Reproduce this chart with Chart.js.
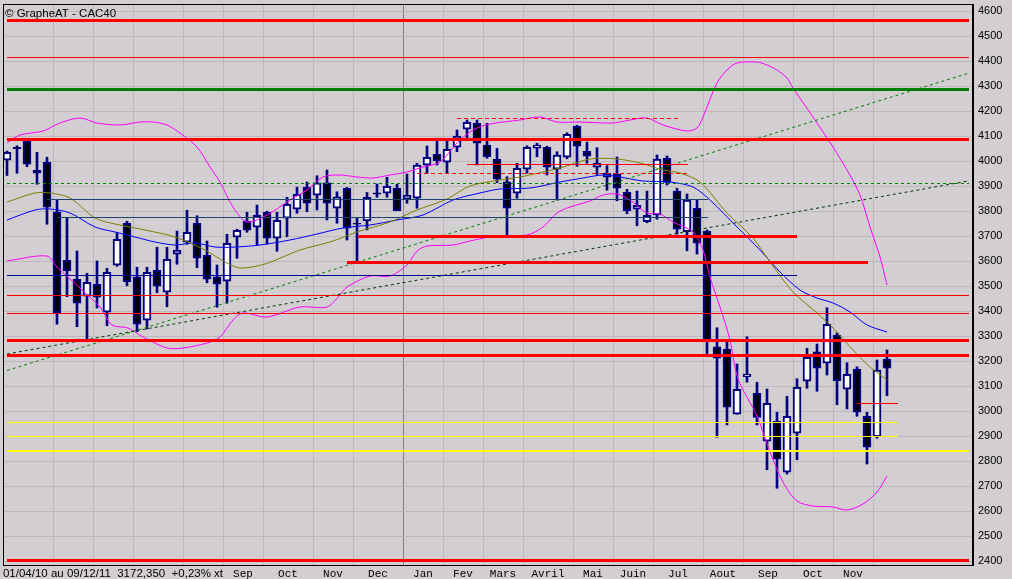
<!DOCTYPE html>
<html>
<head>
<meta charset="utf-8">
<title>GrapheAT - CAC40</title>
<script src="https://cdn.jsdelivr.net/npm/chart.js@4.4.1/dist/chart.umd.min.js"></script>
<style>
  html, body { margin: 0; padding: 0; background: #d2ced2; }
  #wrap { width: 1012px; height: 579px; }
</style>
</head>
<body>
<div id="wrap"><canvas id="cac40" width="1012" height="579"></canvas></div>
<script>
// weekly candles, 01/04/10 -> 09/12/11 (index = week number)
const opens  = [4004, 4056, 4080, 3964, 3996, 3798, 3604, 3528, 3460, 3508,
                3396, 3584, 3752, 3538, 3364, 3564, 3476, 3628, 3676, 3752,
                3624, 3538, 3520, 3696, 3760, 3736, 3796, 3692, 3772, 3808,
                3896, 3864, 3914, 3812, 3892, 3752, 3761, 3874, 3872, 3892,
                3849, 3852, 3984, 4028, 3996, 4056, 4128, 4152, 4065, 4008,
                3918, 3872, 3968, 4052, 4056, 3968, 4016, 4140, 4040, 3976,
                3936, 3948, 3876, 3808, 3758, 3785, 4012, 3881, 3718, 3812,
                3721, 3258, 3249, 2988, 3138, 3072, 2880, 2960, 2756, 2912,
                3120, 3238, 3192, 3305, 3088, 3169, 2980, 2898, 3209];
const highs  = [4041, 4062, 4085, 4036, 4016, 3845, 3774, 3641, 3552, 3601,
                3572, 3716, 3760, 3576, 3576, 3656, 3656, 3721, 3804, 3782,
                3681, 3585, 3708, 3728, 3796, 3825, 3800, 3796, 3856, 3896,
                3917, 3942, 3965, 3878, 3895, 3772, 3875, 3909, 3936, 3908,
                3949, 3992, 4061, 4081, 4085, 4125, 4165, 4165, 4152, 4052,
                3938, 3992, 4062, 4072, 4060, 4038, 4114, 4144, 4077, 4054,
                3982, 4017, 3888, 3881, 3881, 4025, 4021, 3892, 3869, 3845,
                3725, 3334, 3281, 3189, 3298, 3116, 3089, 2996, 3060, 3130,
                3252, 3269, 3414, 3314, 3194, 3178, 2996, 3205, 3245];
const lows   = [3943, 3952, 3978, 3908, 3748, 3348, 3458, 3338, 3288, 3413,
                3342, 3580, 3502, 3318, 3329, 3474, 3418, 3588, 3668, 3574,
                3514, 3416, 3432, 3612, 3716, 3664, 3669, 3640, 3698, 3792,
                3798, 3805, 3765, 3752, 3685, 3594, 3725, 3856, 3856, 3802,
                3832, 3812, 3952, 3985, 3952, 4038, 4085, 3985, 4012, 3914,
                3701, 3852, 3952, 4018, 3945, 3845, 4010, 3980, 3992, 3946,
                3884, 3842, 3790, 3742, 3754, 3768, 3905, 3708, 3642, 3629,
                3225, 2896, 2945, 2988, 3116, 2945, 2766, 2692, 2749, 2806,
                3092, 3080, 3145, 3026, 3009, 2980, 2789, 2892, 3062];
const closes = [4036, 4050, 3988, 3952, 3816, 3394, 3561, 3432, 3516, 3456,
                3556, 3688, 3518, 3348, 3556, 3500, 3608, 3645, 3716, 3612,
                3528, 3508, 3672, 3724, 3724, 3784, 3692, 3764, 3828, 3868,
                3832, 3914, 3832, 3858, 3732, 3748, 3856, 3868, 3900, 3802,
                3864, 3985, 4016, 4002, 4048, 4101, 4156, 4072, 4018, 3928,
                3812, 3972, 4056, 4065, 3976, 4025, 4108, 4060, 4020, 3992,
                3952, 3892, 3802, 3824, 3784, 4009, 3915, 3728, 3845, 3672,
                3279, 3212, 3016, 3088, 3149, 2975, 3032, 2808, 2980, 3096,
                3216, 3172, 3348, 3122, 3148, 2996, 2856, 3165, 3172];

// moving averages and bands, [week, value]
const olivePts = [[0, 3837], [2.8, 3873], [4.3, 3873], [6.3, 3853], [8.8, 3773], [10.8, 3749],
  [13.8, 3725], [16.8, 3697], [19.8, 3645], [21.8, 3597], [23.3, 3573], [25.8, 3589],
  [29.3, 3645], [32.3, 3677], [35, 3717], [38.3, 3757], [41, 3805], [44, 3849],
  [46.3, 3901], [49.3, 3925], [51.3, 3937], [55.3, 3973], [58.3, 4009], [61, 4009],
  [63.3, 3993], [65.6, 3965], [67.3, 3953], [69.3, 3917], [72, 3793], [74.6, 3693],
  [76.3, 3597], [78.6, 3477], [81, 3393], [82.6, 3333], [84.6, 3245], [86.3, 3177], [88, 3125]];
const bluePts = [[0, 3765], [2.8, 3805], [4.3, 3809], [6.3, 3793], [8.8, 3737], [10.8, 3717],
  [12.8, 3697], [14.8, 3677], [16.8, 3665], [18.8, 3673], [20.8, 3657], [22.8, 3657],
  [25.3, 3665], [28.3, 3685], [31, 3709], [33.6, 3733], [36.3, 3745], [39, 3765],
  [41.6, 3785], [44.6, 3845], [47.3, 3873], [49.3, 3889], [52.3, 3893], [55.3, 3917],
  [57.6, 3933], [59.6, 3945], [61.3, 3937], [63.6, 3921], [66.3, 3917], [68.6, 3897],
  [70.3, 3845], [73, 3737], [75.3, 3645], [77.3, 3557], [79.3, 3485], [81, 3453],
  [82.6, 3433], [84.3, 3397], [86, 3345], [88, 3317]];
const upperPts = [[0, 4073], [1.3, 4105], [3.6, 4121], [5.3, 4153], [7.3, 4173], [9, 4153],
  [11.3, 4145], [13.3, 4157], [14.6, 4157], [16, 4145], [17.3, 4113], [19, 4057],
  [20.3, 3977], [21.3, 3917], [22.6, 3817], [24, 3757], [26, 3785], [28.3, 3845],
  [30, 3885], [31.6, 3937], [33.3, 3945], [35, 3937], [36.6, 3933], [38.3, 3945],
  [40, 3957], [41.6, 3977], [43.3, 3997], [45, 4073], [46.6, 4125], [48.3, 4149],
  [51.3, 4165], [53.3, 4177], [55, 4157], [57.3, 4157], [60.6, 4153], [62.3, 4165],
  [64, 4173], [65.6, 4145], [68, 4121], [69, 4133], [69.6, 4177], [71, 4313],
  [72, 4365], [73, 4393], [75, 4397], [76, 4385], [77, 4365], [78, 4333], [78.6, 4293],
  [80.6, 4177], [82.6, 4057], [84, 3965], [85.3, 3865], [86.3, 3737], [87.3, 3617], [88, 3505]];
const lowerPts = [[0, 3601], [4, 3621], [5, 3577], [7.3, 3493], [9.3, 3417], [10.5, 3345],
  [12.1, 3333], [13.6, 3297], [16, 3253], [17.6, 3253], [20, 3273], [21.3, 3297],
  [22.6, 3365], [23.6, 3393], [26, 3377], [29.3, 3417], [32, 3417], [33.3, 3465],
  [34, 3497], [36.3, 3541], [38.3, 3541], [40, 3585], [41, 3641], [42, 3661],
  [44.6, 3665], [46.3, 3681], [48.3, 3697], [52, 3705], [53.6, 3737], [55, 3793],
  [56.3, 3817], [58.3, 3841], [59.6, 3865], [61, 3869], [62.3, 3845], [64, 3793],
  [65.3, 3789], [66.6, 3757], [68.6, 3717], [69.6, 3645], [70.3, 3537], [71.3, 3417],
  [72.3, 3285], [73.1, 3129], [75, 2981], [76.3, 2837], [77.6, 2717], [79, 2641],
  [80.6, 2621], [82.6, 2617], [84, 2605], [85.6, 2629], [87, 2677], [88, 2741]];

// horizontal levels: value, first week, last week
const levelValues = [4563, 4415, 4287, 4087, 4171, 3911, 3987, 3951, 3847, 3775, 3543,
                     3699, 3595, 3463, 3391, 3283, 3223, 2955, 2899, 2841, 3031, 2403];
const levelFrom   = [0, 0, 0, 0, 45, 0, 46, 41, 4, 5, 0, 35.1, 34, 0, 0, 0, 0, 0, 0, 0, 85, 0];
const levelTo     = [96.2, 96.2, 96.2, 96.2, 67.1, 96.2, 68.1, 68.1, 70.1, 70.1, 79,
                     79, 86.1, 96.2, 96.2, 96.2, 96.2, 89.1, 89.1, 96.2, 89.1, 96.2];
const levelKinds  = ['redThick', 'red', 'greenThick', 'redThick', 'redDash', 'greenDash', 'red',
                     'redDash', 'slate', 'slate', 'navy', 'redThick', 'redThick', 'red', 'red',
                     'redThick', 'redThick', 'yellow', 'yellow', 'yellowThick', 'red', 'redThick'];

// trend lines, [week, value]
const trendGreen = [[0, 3163], [96.3, 4354]];
const trendDark  = [[0, 3229], [96.1, 3921]];

// axes
const yTicks = [2400, 2500, 2600, 2700, 2800, 2900, 3000, 3100, 3200, 3300, 3400, 3500,
                3600, 3700, 3800, 3900, 4000, 4100, 4200, 4300, 4400, 4500, 4600];
const monthStarts = [4.6, 8.6, 12.6, 17.6, 21.6, 25.6, 30.6, 34.6, 39.6, 43.6,
                     47.6, 51.6, 56.6, 60.6, 64.6, 69.6, 73.6, 78.6, 82.6, 86.6];
const monthLabels = ['', '', '', '', 'Sep', 'Oct', 'Nov', 'Dec', 'Jan', 'Fev', 'Mars',
                     'Avril', 'Mai', 'Juin', 'Jul', 'Aout', 'Sep', 'Oct', 'Nov'];
const yearStart = 39.6;
const infoText = '01/04/10 au 09/12/11  3172,350  +0,23% xt';
const infoAt = 10.6;

const styles = {
  redThick:    { color: '#ff0000', width: 3, dash: [] },
  red:         { color: '#ff0000', width: 1, dash: [] },
  redDash:     { color: '#ff0000', width: 1, dash: [4, 3] },
  greenThick:  { color: '#008000', width: 3, dash: [] },
  greenDash:   { color: '#008000', width: 1, dash: [3, 3] },
  slate:       { color: '#1c4270', width: 1, dash: [] },
  navy:        { color: '#00008b', width: 1, dash: [] },
  yellow:      { color: '#ffff00', width: 1, dash: [] },
  yellowThick: { color: '#ffff00', width: 2, dash: [] }
};

// x ticks: month borders (grid), month names, info text
const xTickValues = [];
const xTickText = [];
const xTickGrid = [];
monthStarts.forEach(v => { xTickValues.push(v); xTickText.push(''); xTickGrid.push(true); });
monthLabels.forEach((name, k) => {
  if (!name) return;
  xTickValues.push((monthStarts[k] + monthStarts[k + 1]) / 2);
  xTickText.push(name);
  xTickGrid.push(false);
});
xTickValues.push(infoAt); xTickText.push(infoText); xTickGrid.push(false);
const infoIndex = xTickValues.length - 1;

const datasets = [];
levelValues.forEach((v, k) => {
  const s = styles[levelKinds[k]];
  datasets.push({
    type: 'line', order: 0,
    data: [{ x: levelFrom[k], y: v }, { x: levelTo[k], y: v }],
    borderColor: s.color, borderWidth: s.width, borderDash: s.dash,
    pointRadius: 0, tension: 0
  });
});
[[trendGreen, '#008000'], [trendDark, '#003a00']].forEach(([pts, color]) => {
  datasets.push({
    type: 'line', order: 0,
    data: pts.map(([x, y]) => ({ x, y })),
    borderColor: color, borderWidth: 1, borderDash: [3, 3], pointRadius: 0
  });
});
[[olivePts, '#808000'], [bluePts, '#0000ff'], [upperPts, '#ff00ff'], [lowerPts, '#ff00ff']].forEach(([pts, color]) => {
  datasets.push({
    type: 'line', order: 1,
    data: pts.map(([x, y]) => ({ x, y })),
    borderColor: color, borderWidth: 1, pointRadius: 0, tension: 0.3
  });
});
// candle bodies
datasets.push({
  type: 'bar', order: 2, grouped: false,
  data: opens.map((o, i) => ({ x: i, y: [o, closes[i]] })),
  backgroundColor: opens.map((o, i) => closes[i] >= o ? '#ffffff' : '#000000'),
  borderColor: '#000080', borderWidth: 2, borderSkipped: false, barThickness: 8
});
// wicks
datasets.push({
  type: 'bar', order: 3, grouped: false,
  data: lows.map((l, i) => ({ x: i, y: [l, highs[i]] })),
  backgroundColor: '#000080', borderWidth: 0, barThickness: 2
});

const frame = {
  id: 'frame',
  beforeDraw(chart) {
    const c = chart.ctx;
    c.save();
    c.fillStyle = '#d2ced2';
    c.fillRect(0, 0, chart.width, chart.height);
    c.restore();
  },
  afterDraw(chart) {
    const c = chart.ctx;
    const a = chart.chartArea;
    c.save();
    c.strokeStyle = '#000';
    c.lineWidth = 1;
    c.strokeRect(a.left + 0.5, a.top + 0.5, a.right - a.left - 1, a.bottom - a.top);
    c.fillStyle = '#000';
    c.font = '11.5px "Liberation Sans", Arial, sans-serif';
    c.textBaseline = 'alphabetic';
    c.fillText('\u00A9 GrapheAT - CAC40', 5, 17);
    c.restore();
  }
};

new Chart(document.getElementById('cac40'), {
  type: 'bar',
  data: { datasets },
  options: {
    responsive: false,
    animation: false,
    devicePixelRatio: 1,
    layout: { padding: { left: 3, top: 4, right: 0, bottom: 0 } },
    plugins: { legend: { display: false }, tooltip: { enabled: false } },
    scales: {
      x: {
        type: 'linear', min: -0.4, max: 96.6, offset: false,
        afterBuildTicks: (scale) => { scale.ticks = xTickValues.map(v => ({ value: v })); },
        afterFit: (scale) => {
          scale.height = 14;
          scale.paddingLeft = 0;
          scale.paddingRight = 0;
        },
        grid: {
          offset: false,
          drawTicks: false,
          color: (ctx) => {
            if (!xTickGrid[ctx.index]) return 'rgba(0,0,0,0)';
            return xTickValues[ctx.index] === yearStart ? '#808080' : '#bcb9bc';
          }
        },
        border: { color: '#000', width: 1 },
        ticks: {
          autoSkip: false, maxRotation: 0, minRotation: 0, padding: 2, color: '#000',
          callback: (v, i) => xTickText[i],
          font: (ctx) => ctx.index === infoIndex
            ? { family: '"Liberation Sans", Arial, sans-serif', size: 11.5 }
            : { family: '"Courier New", "Liberation Mono", monospace', size: 11 }
        }
      },
      y: {
        position: 'right', min: 2385, max: 4629,
        afterBuildTicks: (scale) => { scale.ticks = yTicks.map(v => ({ value: v })); },
        afterFit: (scale) => {
          scale.width = 39;
          scale.paddingTop = 0;
          scale.paddingBottom = 0;
        },
        grid: { color: '#bcb9bc', drawTicks: false },
        border: { color: '#000', width: 1 },
        ticks: {
          padding: 5, color: '#000',
          font: { family: '"Liberation Sans", Arial, sans-serif', size: 11 },
          callback: (v) => String(v)
        }
      }
    }
  },
  plugins: [frame]
});
</script>
</body>
</html>
